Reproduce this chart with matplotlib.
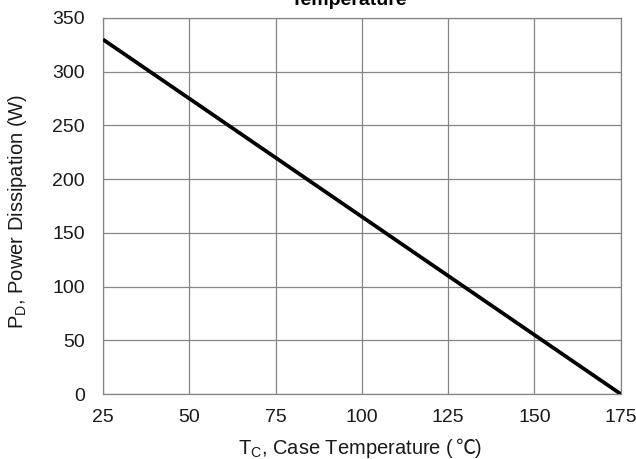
import matplotlib
matplotlib.use("Agg")
import matplotlib.pyplot as plt
from matplotlib.offsetbox import TextArea, HPacker, AnnotationBbox

# Power derating curve
case_temp = [25, 50, 75, 100, 125, 150, 175]
power_w = [330, 275, 220, 165, 110, 55, 0]

x_ticks = [25, 50, 75, 100, 125, 150, 175]
y_ticks = [0, 50, 100, 150, 200, 250, 300, 350]

plt.rcParams["font.family"] = ["Liberation Sans", "Noto Sans CJK SC", "DejaVu Sans"]
txt_c = "#1a1a1a"
grid_c = "#858585"

fig = plt.figure(figsize=(6.36, 4.59), dpi=100)
ax = fig.add_axes([0.162, 0.1416, 0.814, 0.8192])

ax.plot(case_temp, power_w, color="black", linewidth=2.7, solid_capstyle="butt", zorder=5)

ax.set_xlim(25, 175)
ax.set_ylim(0, 350)
ax.set_xticks(x_ticks)
ax.set_yticks(y_ticks)
ax.grid(True, color=grid_c, linewidth=0.9)
ax.tick_params(length=0, labelsize=14, colors=txt_c)
ax.tick_params(axis="x", pad=10.5)
ax.tick_params(axis="y", pad=13)
for s in ax.spines.values():
    s.set_color(grid_c)
    s.set_linewidth(0.9)

# y label
fig.text(0.028, 0.539, "P$_\\mathregular{D}$, Power Dissipation (W)", fontsize=14.5,
         color=txt_c, rotation=90, ha="center", va="center")

# x label, built from pieces so the ℃ sign comes from a font that has it
props = dict(fontsize=14.5, color=txt_c)
parts = [
    TextArea("T$_\\mathregular{C}$, Case Temperature (", textprops=props),
    TextArea("℃", textprops=dict(props, family="Noto Sans CJK SC", fontweight="light")),
    TextArea(")", textprops=props),
]
xlab = HPacker(children=parts, align="baseline", pad=0, sep=0)
ab = AnnotationBbox(xlab, (0.566, 0.022), xycoords="figure fraction",
                    box_alignment=(0.5, 0.5), frameon=False)
fig.add_artist(ab)

# title is cut off at the top of the image, only its last line shows
fig.text(0.549, 0.989, "Temperature", fontsize=14, fontweight="bold",
         ha="center", va="baseline")

fig.savefig("out.png", dpi=100)
